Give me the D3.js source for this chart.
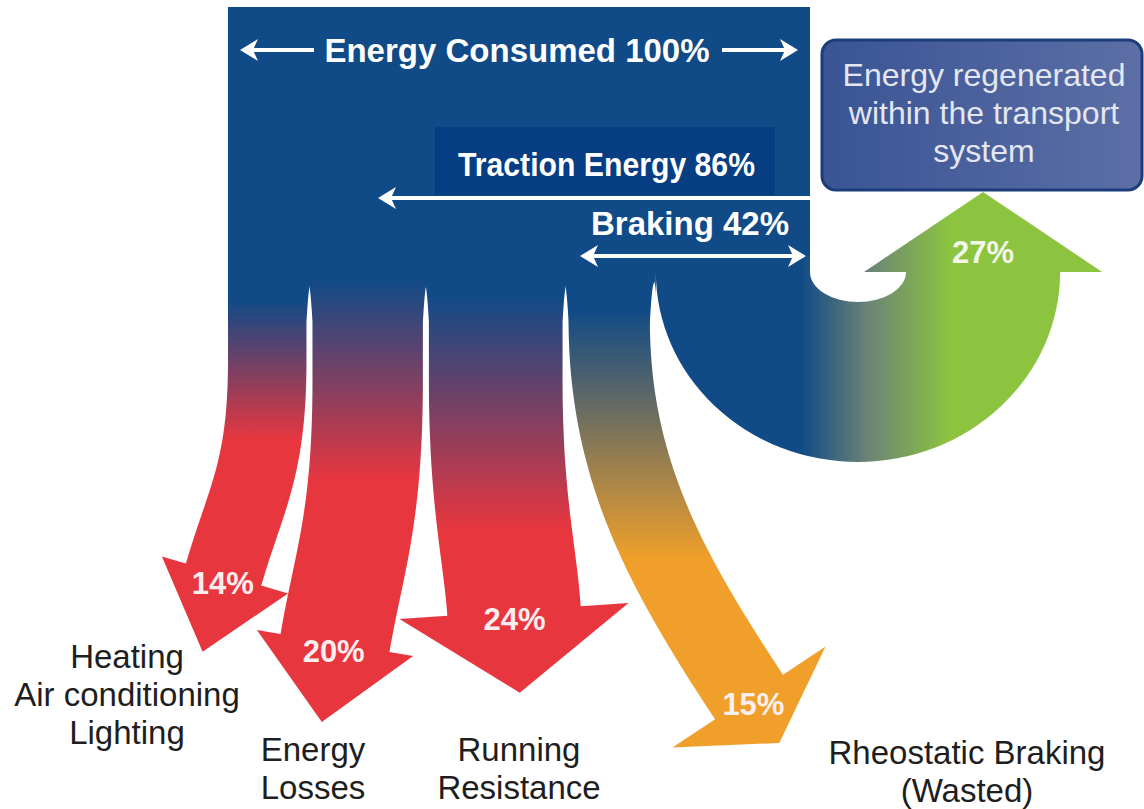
<!DOCTYPE html>
<html>
<head>
<meta charset="utf-8">
<script src="https://cdn.jsdelivr.net/npm/d3@7"></script>
<style>
  body { margin: 0; background: #fff; }
  svg { display: block; }
</style>
</head>
<body>
<div id="chart"></div>
<script>
// flows out of the consumed energy (percent of total)
const flowNames = ['Heating Air conditioning Lighting', 'Energy Losses', 'Running Resistance', 'Rheostatic Braking (Wasted)', 'Energy regenerated'];
const flowValues = [14, 20, 24, 15, 27];
const flowLabels = [['Heating', 'Air conditioning', 'Lighting'], ['Energy', 'Losses'], ['Running', 'Resistance'], ['Rheostatic Braking', '(Wasted)']];
const flowColors = ['#e8363f', '#e8363f', '#e8363f', '#f0a02a', '#8cc43f'];

// aggregate totals written on the big block
const totalNames = ['Energy Consumed', 'Traction Energy', 'Braking'];
const totalValues = [100, 86, 42];

const regenLines = ['Energy regenerated', 'within the transport', 'system'];

const blue = '#104a87';

// layout of the bends (not data)
const bends = [
  {yBend: 360, c1y: 470, end: [225, 575], dir: [-0.28, 0.96], k2: 80, ext: 25, head: 80, g: [300, 440], lab: [127, 668]},
  {yBend: 380, c1y: 520, end: [335, 643], dir: [-0.165, 0.986], k2: 80, ext: 21, head: 80, g: [280, 480], lab: [313, 761]},
  {yBend: 380, c1y: 500, end: [514, 611], dir: [0.07, 0.997], k2: 60, ext: 45, head: 82, g: [295, 530], lab: [519, 761]},
  {yBend: 320, c1y: 470, end: [749, 697], dir: [0.55, 0.835], k2: 150, ext: 48, head: 55, g: [310, 560], lab: [967, 764]}
];

const W = 1144, H = 809;
const svg = d3.select('#chart').append('svg')
    .attr('width', W)
    .attr('height', H)
    .style('font-family', '"Liberation Sans", Arial, sans-serif');

const defs = svg.append('defs');

const x = d3.scaleLinear().domain([0, d3.sum(flowValues)]).range([228, 810]);
const cum = d3.cumsum(flowValues);
const starts = [0].concat(Array.from(cum).slice(0, -1));

const yTop = 250, blockTop = 7, blockBottom = 256;

function bez(p0, p1, p2, p3, t) {
  const u = 1 - t;
  return [0, 1].map(k => u*u*u*p0[k] + 3*u*u*t*p1[k] + 3*u*t*t*p2[k] + t*t*t*p3[k]);
}
function bezD(p0, p1, p2, p3, t) {
  const u = 1 - t;
  return [0, 1].map(k => 3*u*u*(p1[k]-p0[k]) + 6*u*t*(p2[k]-p1[k]) + 3*t*t*(p3[k]-p2[k]));
}

function streamPath(i) {
  const b = bends[i];
  const x0 = x(starts[i]), x1 = x(starts[i] + flowValues[i]);
  const w = x1 - x0, xs = (x0 + x1) / 2;
  const gA = i === 0 ? 0 : 3, gB = 3;
  const oA = i === 0 ? 0 : 1.5, oB = 1.5;   // small overlap at the fork to hide seams
  const samples = [];
  for (let k = 0; k <= 20; k++) {
    samples.push({p: [xs, yTop + (b.yBend - yTop) * k / 20], t: [0, 1]});
  }
  const P0 = [xs, b.yBend], P1 = [xs, b.c1y];
  const P2 = [b.end[0] - b.dir[0] * b.k2, b.end[1] - b.dir[1] * b.k2], P3 = b.end;
  for (let k = 1; k <= 60; k++) {
    const t = k / 60;
    const d = bezD(P0, P1, P2, P3, t);
    const len = Math.hypot(d[0], d[1]);
    samples.push({p: bez(P0, P1, P2, P3, t), t: [d[0] / len, d[1] / len]});
  }
  let s = 0;
  samples.forEach((d, k) => {
    if (k > 0) s += Math.hypot(d.p[0] - samples[k-1].p[0], d.p[1] - samples[k-1].p[1]);
    d.s = s;
  });
  const sideA = [], sideB = [];
  samples.forEach(d => {
    const n = [-d.t[1], d.t[0]];
    // gaps open gradually, like the rounded forks of the original
    const u = Math.max(0, Math.min(1, (d.s - 32) / 40));
    const f = Math.sqrt(u);
    const hA = w / 2 + oA - (gA + oA) * f, hB = w / 2 + oB - (gB + oB) * f;
    sideA.push([d.p[0] + n[0] * hA, d.p[1] + n[1] * hA]);
    sideB.push([d.p[0] - n[0] * hB, d.p[1] - n[1] * hB]);
  });
  const last = samples[samples.length - 1];
  const n = [-last.t[1], last.t[0]];
  const E = last.p, hw = w / 2;
  const head = [
    [E[0] + n[0] * (hw + b.ext), E[1] + n[1] * (hw + b.ext)],
    [E[0] + last.t[0] * b.head, E[1] + last.t[1] * b.head],
    [E[0] - n[0] * (hw + b.ext), E[1] - n[1] * (hw + b.ext)]
  ];
  const pts = sideA.concat(head, sideB.reverse());
  return {d: d3.line()(pts) + 'Z', E: E, t: last.t};
}

// down-going streams
const streamG = svg.append('g').attr('class', 'streams');
const pctG = svg.append('g').attr('class', 'pct');
bends.forEach((b, i) => {
  const gid = 'grad' + i;
  const grad = defs.append('linearGradient')
      .attr('id', gid)
      .attr('gradientUnits', 'userSpaceOnUse')
      .attr('x1', 0).attr('x2', 0)
      .attr('y1', b.g[0]).attr('y2', b.g[1]);
  grad.append('stop').attr('offset', 0).attr('stop-color', blue);
  grad.append('stop').attr('offset', 1).attr('stop-color', flowColors[i]);

  const sp = streamPath(i);
  streamG.append('path')
      .attr('d', sp.d)
      .attr('fill', 'url(#' + gid + ')');

  pctG.append('text')
      .attr('x', sp.E[0] + sp.t[0] * 8)
      .attr('y', sp.E[1] + sp.t[1] * 8)
      .attr('dy', '0.36em')
      .attr('text-anchor', 'middle')
      .attr('fill', '#fbeeee')
      .attr('font-weight', 'bold')
      .attr('font-size', 31)
      .text(flowValues[i] + '%');

  const lab = svg.append('text')
      .attr('text-anchor', 'middle')
      .attr('fill', '#1e1e1e')
      .attr('font-size', 33);
  flowLabels[i].forEach((line, k) => {
    lab.append('tspan')
        .attr('x', b.lab[0])
        .attr('y', b.lab[1] + k * 38)
        .text(line);
  });
});

// regenerated U-turn stream
(function() {
  const i = 4;
  const x0 = x(starts[i]);
  const xl = x0 + 3, xr = x(starts[i] + flowValues[i]);
  const w = xr - xl;
  const ri = 48, riy = 30, cy = 272;
  const cx = xr + ri;
  const ro = ri + w, roy = 190;
  const bc = cx + ri + w / 2;
  const ext = 42, headH = 80;

  const grad = defs.append('linearGradient')
      .attr('id', 'gradU')
      .attr('gradientUnits', 'userSpaceOnUse')
      .attr('x1', 800).attr('x2', 950)
      .attr('y1', 0).attr('y2', 0);
  grad.append('stop').attr('offset', 0).attr('stop-color', blue);
  grad.append('stop').attr('offset', 0.45).attr('stop-color', '#6b8376');
  grad.append('stop').attr('offset', 1).attr('stop-color', flowColors[i]);

  const p = d3.path();
  p.moveTo(x0 - 1.5, yTop);
  p.lineTo(x0 - 1.5, yTop + 26);
  p.quadraticCurveTo(xl, yTop + 30, xl, yTop + 48);
  p.lineTo(xl, cy);
  const d = p.toString() +
    ' A' + ro + ' ' + roy + ' 0 0 0 ' + (cx + ro) + ' ' + cy +
    ' L' + (bc + w / 2 + ext) + ' ' + cy +
    ' L' + bc + ' ' + (cy - headH) +
    ' L' + (bc - w / 2 - ext) + ' ' + cy +
    ' L' + (cx + ri) + ' ' + cy +
    ' A' + ri + ' ' + riy + ' 0 0 1 ' + xr + ' ' + cy +
    ' L' + xr + ' ' + yTop + ' Z';
  svg.append('path').attr('d', d).attr('fill', 'url(#gradU)');

  svg.append('text')
      .attr('x', bc)
      .attr('y', cy - 20)
      .attr('dy', '0.36em')
      .attr('text-anchor', 'middle')
      .attr('fill', '#f2f7ea')
      .attr('font-weight', 'bold')
      .attr('font-size', 31)
      .text(flowValues[i] + '%');
})();

// main block, drawn over the stream tops
svg.append('rect')
    .attr('x', x(0))
    .attr('y', blockTop)
    .attr('width', x(totalValues[0]) - x(0))
    .attr('height', blockBottom - blockTop)
    .attr('fill', blue);
pctG.raise();

// regenerated box
const boxGrad = defs.append('linearGradient').attr('id', 'gradBox')
    .attr('x1', 0).attr('x2', 1).attr('y1', 0).attr('y2', 0);
boxGrad.append('stop').attr('offset', 0).attr('stop-color', '#3a5494');
boxGrad.append('stop').attr('offset', 1).attr('stop-color', '#5c6fa6');

svg.append('rect')
    .attr('x', 822).attr('y', 40)
    .attr('width', 320).attr('height', 150)
    .attr('rx', 14)
    .attr('fill', 'url(#gradBox)')
    .attr('stroke', '#1d3d7a')
    .attr('stroke-width', 3);

svg.append('g').selectAll('text')
    .data(regenLines)
    .enter()
    .append('text')
      .attr('x', 984)
      .attr('y', (d, k) => 86 + k * 38)
      .attr('text-anchor', 'middle')
      .attr('fill', '#e4e7f0')
      .attr('font-size', 32)
      .text(d => d);

// traction label backing box
svg.append('rect')
    .attr('x', 435).attr('y', 127)
    .attr('width', 340).attr('height', 68)
    .attr('fill', '#073d82');

// arrows
function arrowHead(g, tipX, y, dir) {
  g.append('path')
      .attr('d', 'M' + tipX + ',' + y +
                 'L' + (tipX + dir * 18) + ',' + (y - 11) +
                 'L' + (tipX + dir * 13) + ',' + y +
                 'L' + (tipX + dir * 18) + ',' + (y + 11) + 'Z')
      .attr('fill', '#fff');
}
function arrow(xa, xb, y, left, right) {
  const g = svg.append('g');
  g.append('line')
      .attr('x1', xa + (left ? 10 : 0)).attr('x2', xb - (right ? 10 : 0))
      .attr('y1', y).attr('y2', y)
      .attr('stroke', '#fff')
      .attr('stroke-width', 4);
  if (left) arrowHead(g, xa, y, 1);
  if (right) arrowHead(g, xb, y, -1);
}

arrow(240, 314, 50, true, false);
arrow(722, 798, 50, false, true);
arrow(378, 810, 198, true, false);
arrow(580, 806, 256, true, true);

svg.append('text')
    .attr('x', 517).attr('y', 62)
    .attr('text-anchor', 'middle')
    .attr('fill', '#fff')
    .attr('font-weight', 'bold')
    .attr('font-size', 33)
    .text(totalNames[0] + ' ' + totalValues[0] + '%');

svg.append('text')
    .attr('x', 458).attr('y', 176)
    .attr('fill', '#fff')
    .attr('font-weight', 'bold')
    .attr('font-size', 34)
    .attr('textLength', 297)
    .attr('lengthAdjust', 'spacingAndGlyphs')
    .style('font-family', '"Liberation Sans Narrow", "Liberation Sans", Arial, sans-serif')
    .text(totalNames[1] + ' ' + totalValues[1] + '%');

svg.append('text')
    .attr('x', 690).attr('y', 235)
    .attr('text-anchor', 'middle')
    .attr('fill', '#fff')
    .attr('font-weight', 'bold')
    .attr('font-size', 33)
    .text(totalNames[2] + ' ' + totalValues[2] + '%');
</script>
</body>
</html>
